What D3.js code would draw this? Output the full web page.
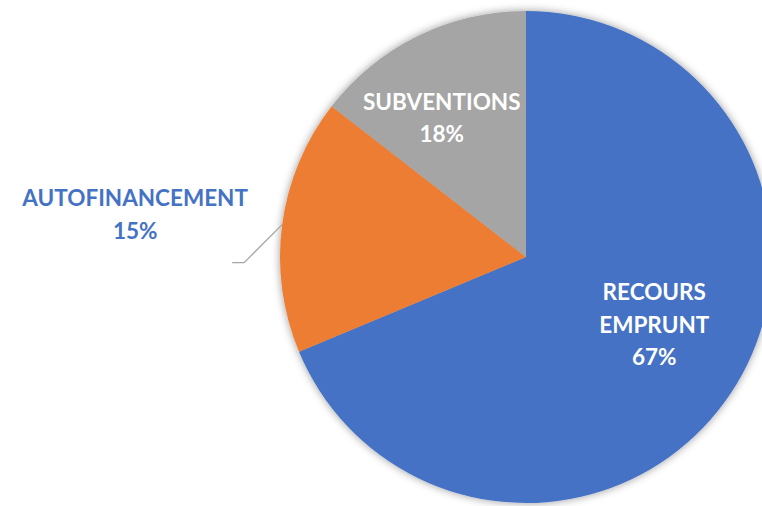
<!DOCTYPE html>
<html>
<head>
<meta charset="utf-8">
<script src="https://cdn.jsdelivr.net/npm/d3@7"></script>
<style>
  body { margin: 0; background: #fff; }
  svg text { font-family: Lato, "Open Sans", sans-serif; font-weight: bold; }
</style>
</head>
<body>
<div id="chart"></div>
<script>
// categories and shares (slice sizes, labels as printed)
var categories = ["RECOURS EMPRUNT", "AUTOFINANCEMENT", "SUBVENTIONS"];
var shares = [68.7, 16.8, 14.5];
var pctLabels = ["67%", "15%", "18%"];
var colors = ["#4472C4", "#ED7D31", "#A5A5A5"];

var width = 762, height = 506;
var cx = 526, cy = 257, radius = 246;

var svg = d3.select("#chart").append("svg")
    .attr("width", width)
    .attr("height", height);

var defs = svg.append("defs");
var f = defs.append("filter").attr("id", "shadow")
    .attr("x", "-20%").attr("y", "-20%").attr("width", "140%").attr("height", "140%");
f.append("feDropShadow")
    .attr("dx", 0).attr("dy", 0)
    .attr("stdDeviation", 4)
    .attr("flood-color", "#000")
    .attr("flood-opacity", 0.4);

var g = svg.append("g")
    .attr("transform", "translate(" + cx + "," + cy + ")");

var pie = d3.pie().sort(null).value(function(d){ return d; });
var arcs = pie(shares);

var arc = d3.arc().innerRadius(0).outerRadius(radius);

g.append("g").attr("filter", "url(#shadow)")
    .selectAll("path")
    .data(arcs)
    .enter()
    .append("path")
    .attr("d", arc)
    .attr("fill", function(d, i){ return colors[i]; });

function mid(d){ return (d.startAngle + d.endAngle) / 2; }
function pointAt(a, r){ return [Math.sin(a) * r, -Math.cos(a) * r]; }

var fontSize = 22.5;
var lineH = 32.5;

// inside labels: fraction of radius and small angle nudge
var inside = [
    { i: 0, lines: ["RECOURS", "EMPRUNT", pctLabels[0]], k: 0.59, shift: -0.10 },
    { i: 2, lines: ["SUBVENTIONS", pctLabels[2]], k: 0.66, shift: -0.09 }
];

inside.forEach(function(L){
    var a = mid(arcs[L.i]) + L.shift;
    var p = pointAt(a, radius * L.k);
    var n = L.lines.length;
    var t = g.append("text")
        .attr("text-anchor", "middle")
        .attr("font-size", fontSize)
        .attr("fill", "#fff");
    L.lines.forEach(function(s, j){
        t.append("tspan")
            .attr("x", p[0])
            .attr("y", p[1] + (j - (n - 1) / 2) * lineH + 8)
            .text(s);
    });
});

// outside label with leader line
var oa = mid(arcs[1]);
var A = pointAt(oa, radius);
var B = [A[0] - 38, A[1] + 38];
var C = [B[0] - 12, B[1]];

g.append("polyline")
    .attr("points", [A, B, C].map(function(p){ return p.join(","); }).join(" "))
    .attr("fill", "none")
    .attr("stroke", "#A6A6A6")
    .attr("stroke-width", 1.3);

var ot = g.append("text")
    .attr("text-anchor", "middle")
    .attr("font-size", fontSize)
    .attr("fill", colors[0]);
[categories[1], pctLabels[1]].forEach(function(s, j){
    ot.append("tspan")
        .attr("x", C[0] - 97)
        .attr("y", C[1] - 57 + j * 33)
        .text(s);
});
</script>
</body>
</html>
